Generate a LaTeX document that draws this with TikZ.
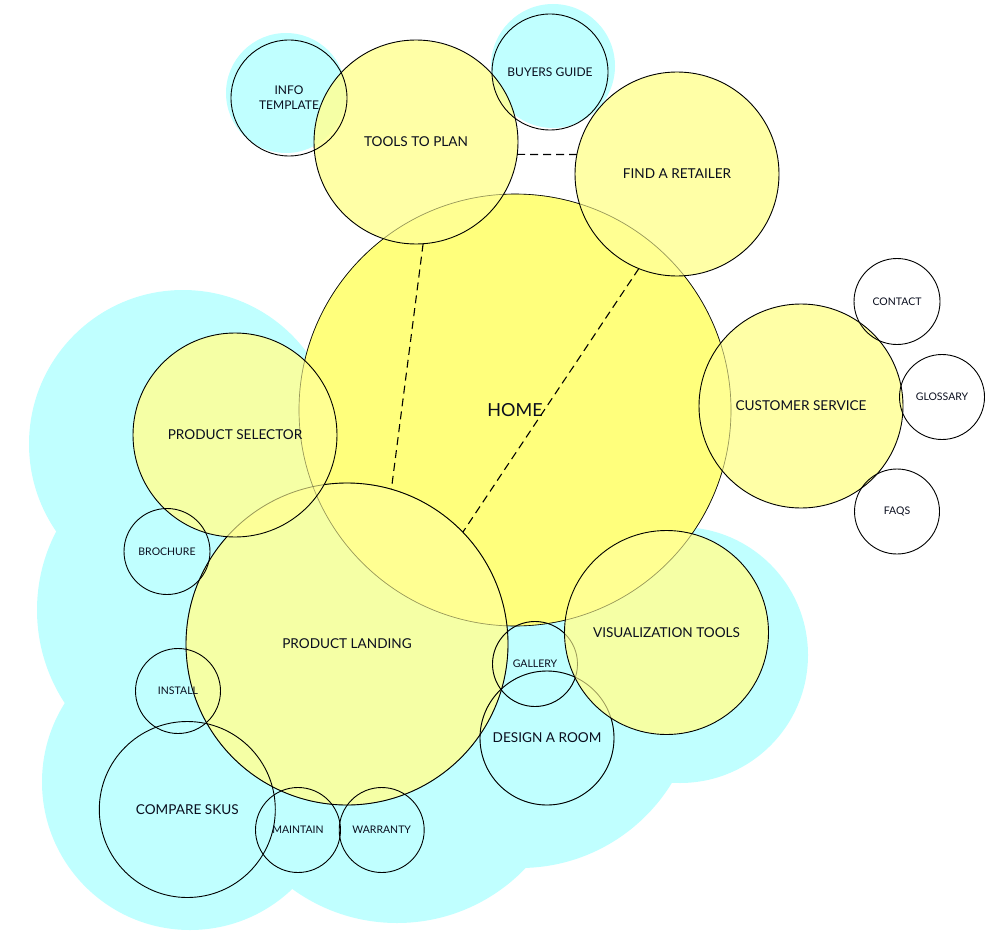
\documentclass[tikz,border=0pt]{standalone}
\usepackage{fontspec}
\setmainfont{Lato}
\definecolor{cybg}{RGB}{192,255,255}
\definecolor{homey}{RGB}{255,255,124}
\definecolor{paley}{RGB}{255,255,150}
\definecolor{ink}{RGB}{10,14,30}
\tikzset{
  bub/.style={circle, inner sep=0pt, outer sep=0pt, draw=black, line width=0.9pt, text=ink, align=center},
  ybub/.style={bub, fill=paley, fill opacity=0.85, text opacity=1},
  leaf/.style={bub},
  bigf/.style={font=\fontsize{18}{20}\selectfont},
  medf/.style={font=\fontsize{13.6}{16}\selectfont},
  midf/.style={font=\fontsize{12}{15}\selectfont},
  smf/.style={font=\fontsize{10.5}{12}\selectfont},
  link/.style={draw=black, line width=1.1pt, dash pattern=on 8pt off 5pt},
  cyfill/.style={fill=cybg},
  ghost/.style={draw=black, draw opacity=0.3, line width=0.7pt}
}
\begin{document}
\begin{tikzpicture}[x=1pt,y=-1pt]
\useasboundingbox (0,0) rectangle (1003,936);
% cyan background
\fill[cyfill] (286,93) circle[radius=60pt];
\fill[cyfill] (553,66) circle[radius=62pt];
\fill[cyfill] (183,444) circle[radius=154pt];
\fill[cyfill] (207,610) circle[radius=170pt];
\fill[cyfill] (190,782) circle[radius=148pt];
\fill[cyfill] (397,745) circle[radius=178pt];
\fill[cyfill] (520,690) circle[radius=178pt];
\fill[cyfill] (680,655) circle[radius=128pt];
% home
\node[bub, fill=homey, line width=0.6pt, minimum size=432pt, bigf] (home) at (515,410) {HOME};
% main sections
\node[ybub, minimum size=322pt, medf] (pl) at (347,644) {PRODUCT LANDING};
\node[ybub, minimum size=204pt, medf] (ps) at (235,435) {PRODUCT SELECTOR};
\node[leaf, minimum size=85pt, smf] (gal) at (535,664) {GALLERY};
\node[leaf, minimum size=134pt, medf] (dar) at (547,738) {DESIGN A ROOM};
\node[ybub, minimum size=204pt, medf] (vt) at (666.5,632.5) {VISUALIZATION TOOLS};
\node[ybub, minimum size=204pt, medf] (cs) at (801,406) {CUSTOMER SERVICE};
\node[ybub, minimum size=204pt, medf] (tp) at (416,142) {TOOLS TO PLAN};
\node[ybub, minimum size=204pt, medf] (fr) at (677,174) {FIND A RETAILER};
% faint edges seen through the pale fills
\draw[ghost] (515,410) circle[radius=216pt];
\draw[ghost] (347,644) circle[radius=161pt];
\draw[ghost] (535,664) circle[radius=42.5pt];
\draw[ghost] (547,738) circle[radius=67pt];
% leaves
\node[leaf, minimum size=116pt, midf] (info) at (289,98) {INFO\\TEMPLATE};
\node[leaf, minimum size=116pt, midf] (bg) at (550,72) {BUYERS GUIDE};
\node[leaf, minimum size=86pt, smf] (contact) at (897,301.5) {CONTACT};
\node[leaf, minimum size=85pt, smf] (gloss) at (942,397) {GLOSSARY};
\node[leaf, minimum size=85pt, smf] (faqs) at (897,511.5) {FAQS};
\node[leaf, minimum size=86pt, smf] (broch) at (167,551.5) {BROCHURE};
\node[leaf, minimum size=85pt, smf] (inst) at (178,691) {INSTALL};
\node[leaf, minimum size=176pt, medf] (skus) at (187.3,809.5) {COMPARE SKUS};
\node[leaf, minimum size=85pt, smf] (maint) at (298,830) {MAINTAIN};
\node[leaf, minimum size=85pt, smf] (warr) at (381.7,830) {WARRANTY};
% dashed connectors
\draw[link] (tp.-86) -- (pl.74);
\draw[link] (fr.248) -- (pl.44);
\draw[link] (tp.-7) -- (fr.169);
\end{tikzpicture}
\end{document}
